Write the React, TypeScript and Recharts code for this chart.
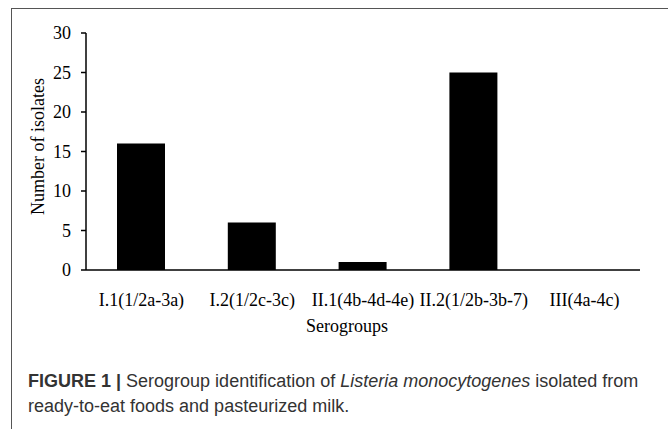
import React from "react"
import { Bar, BarChart, XAxis, YAxis } from "recharts"

const SEROGROUPS = ["I.1(1/2a-3a)", "I.2(1/2c-3c)", "II.1(4b-4d-4e)", "II.2(1/2b-3b-7)", "III(4a-4c)"]
const ISOLATES = [16, 6, 1, 25, 0]
const Y_TICKS = [0, 5, 10, 15, 20, 25, 30]

const data = SEROGROUPS.map((name, i) => ({ name, isolates: ISOLATES[i] }))

const SERIF = '"Liberation Serif", "Times New Roman", serif'

export default function App() {
  return (
    <div
      style={{
        position: "fixed",
        left: 0,
        top: 0,
        width: 668,
        height: 429,
        background: "#fff",
        overflow: "hidden",
      }}
    >
      {/* figure frame: only top and left edges show in the crop */}
      <div
        style={{
          position: "absolute",
          left: 11,
          top: 8,
          width: 700,
          height: 460,
          borderTop: "1.5px solid #555",
          borderLeft: "1.5px solid #555",
        }}
      />
      <div style={{ position: "absolute", left: 0, top: 0 }}>
        <BarChart
          width={668}
          height={340}
          data={data}
          margin={{ top: 33, right: 28, left: 36, bottom: 8 }}
          barCategoryGap="0%"
        >
          <XAxis
            dataKey="name"
            height={62}
            tickLine={false}
            tickSize={6}
            tickMargin={17}
            axisLine={{ stroke: "#000", strokeWidth: 1.5 }}
            tick={{ fill: "#000", fontSize: 18, fontFamily: SERIF }}
            interval={0}
            label={{
              value: "Serogroups",
              position: "insideBottom",
              offset: 0,
              dx: -16,
              fill: "#000",
              fontSize: 18,
              fontFamily: SERIF,
            }}
          />
          <YAxis
            width={50}
            domain={[0, 30]}
            ticks={Y_TICKS}
            tickSize={5}
            tickMargin={10}
            tickLine={{ stroke: "#000", strokeWidth: 1.5 }}
            axisLine={{ stroke: "#000", strokeWidth: 1.5 }}
            tick={{ fill: "#000", fontSize: 18, fontFamily: SERIF }}
            label={{
              value: "Number of isolates",
              angle: -90,
              position: "center",
              dx: -23,
              dy: -5,
              fill: "#000",
              fontSize: 18,
              fontFamily: SERIF,
            }}
          />
          <Bar dataKey="isolates" fill="#000" barSize={48} isAnimationActive={false} />
        </BarChart>
      </div>
      <div
        style={{
          position: "absolute",
          left: 28,
          top: 369,
          width: 640,
          fontFamily: '"Liberation Sans", Arial, sans-serif',
          fontSize: 18,
          lineHeight: "25px",
          color: "#333",
          whiteSpace: "nowrap",
        }}
      >
        <b>FIGURE 1 | </b>Serogroup identification of <i>Listeria monocytogenes</i> isolated from
        <br />
        ready-to-eat foods and pasteurized milk.
      </div>
    </div>
  )
}
